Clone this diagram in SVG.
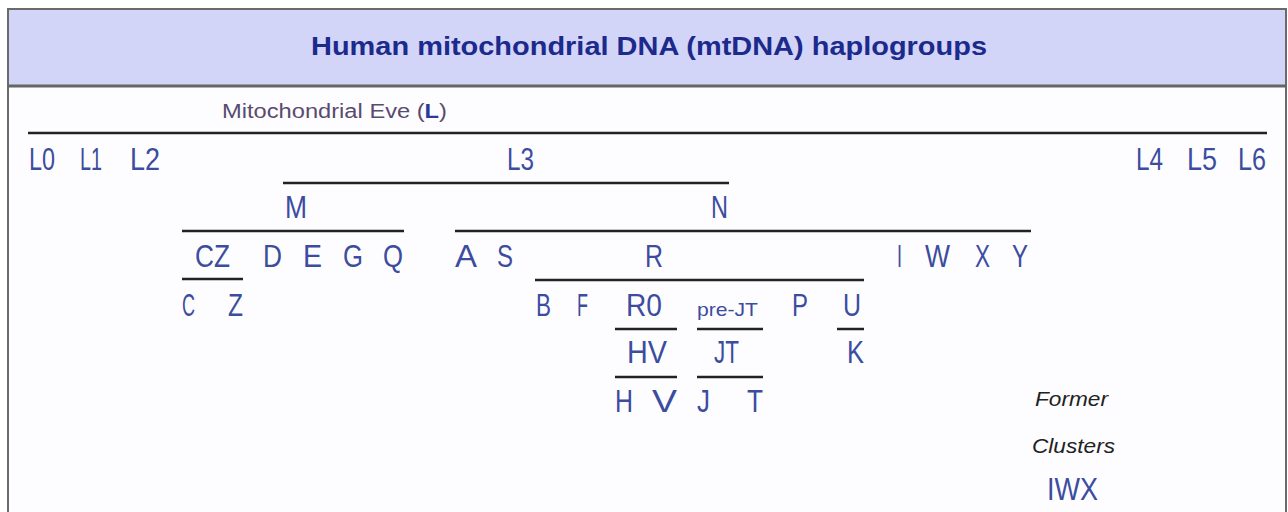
<svg xmlns="http://www.w3.org/2000/svg" width="1288" height="512" viewBox="0 0 1288 512">
  <style>
    .frame { fill: #fdfdff; stroke: #6a6a6a; stroke-width: 2; }
    .header { fill: #d2d4f8; }
    .rule { stroke: #666666; stroke-width: 3; }
    .title { font-family: "Liberation Sans", Arial, sans-serif; font-weight: bold; font-size: 26px; fill: #1c2a8c; }
    .eve { font-family: "Liberation Sans", Arial, sans-serif; font-size: 20px; fill: #5a4a6e; }
    .eve .root { fill: #2a3a9c; font-weight: bold; }
    .hg { font-family: "Liberation Sans", Arial, sans-serif; font-size: 31px; fill: #3c4c9e; }
    .hg.small { font-size: 19px; }
    .note { font-family: "Liberation Sans", Arial, sans-serif; font-style: italic; font-size: 21px; fill: #222222; }
    .link line { stroke: #222222; stroke-width: 2.5; }
  </style>

  <!-- outer panel and title bar -->
  <rect class="frame" x="8" y="9" width="1278" height="510"/>
  <rect class="header" x="9" y="10" width="1276" height="75"/>
  <line class="rule" x1="8" y1="86" x2="1286" y2="86"/>
  <text class="title" x="311" y="55" textLength="676" lengthAdjust="spacingAndGlyphs">Human mitochondrial DNA (mtDNA) haplogroups</text>

  <!-- root -->
  <g id="eve">
    <text class="eve" x="222" y="118" textLength="225" lengthAdjust="spacingAndGlyphs">Mitochondrial Eve (<tspan class="root">L</tspan>)</text>
  </g>

  <!-- branch bars -->
  <g id="connectors" class="link">
    <line x1="28" y1="133" x2="1267" y2="133"/>
    <line x1="283" y1="183" x2="729" y2="183"/>
    <line x1="182" y1="231" x2="404" y2="231"/>
    <line x1="455" y1="231" x2="1031" y2="231"/>
    <line x1="182" y1="279" x2="243" y2="279"/>
    <line x1="535" y1="280" x2="864" y2="280"/>
    <line x1="615" y1="329" x2="677" y2="329"/>
    <line x1="697" y1="329" x2="763" y2="329"/>
    <line x1="837" y1="329" x2="864" y2="329"/>
    <line x1="615" y1="377" x2="677" y2="377"/>
    <line x1="697" y1="377" x2="763" y2="377"/>
  </g>

  <!-- L haplogroups -->
  <g id="L0"><text class="hg" x="29" y="170" textLength="26" lengthAdjust="spacingAndGlyphs">L0</text></g>
  <g id="L1"><text class="hg" x="80" y="170" textLength="22" lengthAdjust="spacingAndGlyphs">L1</text></g>
  <g id="L2"><text class="hg" x="130" y="170" textLength="30" lengthAdjust="spacingAndGlyphs">L2</text></g>
  <g id="L3"><text class="hg" x="507" y="170" textLength="27" lengthAdjust="spacingAndGlyphs">L3</text></g>
  <g id="L4"><text class="hg" x="1136" y="170" textLength="27" lengthAdjust="spacingAndGlyphs">L4</text></g>
  <g id="L5"><text class="hg" x="1187" y="170" textLength="30" lengthAdjust="spacingAndGlyphs">L5</text></g>
  <g id="L6"><text class="hg" x="1238" y="170" textLength="28" lengthAdjust="spacingAndGlyphs">L6</text></g>

  <!-- macro-haplogroups -->
  <g id="M"><text class="hg" x="285" y="218" textLength="22" lengthAdjust="spacingAndGlyphs">M</text></g>
  <g id="N"><text class="hg" x="711" y="218" textLength="17" lengthAdjust="spacingAndGlyphs">N</text></g>

  <!-- M descendants -->
  <g id="CZ"><text class="hg" x="195" y="267" textLength="35" lengthAdjust="spacingAndGlyphs">CZ</text></g>
  <g id="D"><text class="hg" x="263" y="267" textLength="19" lengthAdjust="spacingAndGlyphs">D</text></g>
  <g id="E"><text class="hg" x="303" y="267" textLength="19" lengthAdjust="spacingAndGlyphs">E</text></g>
  <g id="G"><text class="hg" x="343" y="267" textLength="20" lengthAdjust="spacingAndGlyphs">G</text></g>
  <g id="Q"><text class="hg" x="383" y="267" textLength="20" lengthAdjust="spacingAndGlyphs">Q</text></g>
  <g id="C"><text class="hg" x="182" y="316" textLength="13" lengthAdjust="spacingAndGlyphs">C</text></g>
  <g id="Z"><text class="hg" x="228" y="316" textLength="15" lengthAdjust="spacingAndGlyphs">Z</text></g>

  <!-- N descendants -->
  <g id="A"><text class="hg" x="455" y="267" textLength="22" lengthAdjust="spacingAndGlyphs">A</text></g>
  <g id="S"><text class="hg" x="497" y="267" textLength="16" lengthAdjust="spacingAndGlyphs">S</text></g>
  <g id="R"><text class="hg" x="645" y="267" textLength="18" lengthAdjust="spacingAndGlyphs">R</text></g>
  <g id="I"><text class="hg" x="897" y="267" textLength="5" lengthAdjust="spacingAndGlyphs">I</text></g>
  <g id="W"><text class="hg" x="925" y="267" textLength="25" lengthAdjust="spacingAndGlyphs">W</text></g>
  <g id="X"><text class="hg" x="975" y="267" textLength="15" lengthAdjust="spacingAndGlyphs">X</text></g>
  <g id="Y"><text class="hg" x="1012" y="267" textLength="16" lengthAdjust="spacingAndGlyphs">Y</text></g>

  <!-- R descendants -->
  <g id="B"><text class="hg" x="536" y="316" textLength="15" lengthAdjust="spacingAndGlyphs">B</text></g>
  <g id="F"><text class="hg" x="577" y="316" textLength="11" lengthAdjust="spacingAndGlyphs">F</text></g>
  <g id="R0"><text class="hg" x="626" y="316" textLength="36" lengthAdjust="spacingAndGlyphs">R0</text></g>
  <g id="preJT"><text class="hg small" x="697" y="316" textLength="61" lengthAdjust="spacingAndGlyphs">pre-JT</text></g>
  <g id="P"><text class="hg" x="792" y="316" textLength="16" lengthAdjust="spacingAndGlyphs">P</text></g>
  <g id="U"><text class="hg" x="843" y="316" textLength="18" lengthAdjust="spacingAndGlyphs">U</text></g>
  <g id="HV"><text class="hg" x="627" y="363" textLength="40" lengthAdjust="spacingAndGlyphs">HV</text></g>
  <g id="JT"><text class="hg" x="714" y="363" textLength="25" lengthAdjust="spacingAndGlyphs">JT</text></g>
  <g id="K"><text class="hg" x="847" y="363" textLength="17" lengthAdjust="spacingAndGlyphs">K</text></g>
  <g id="H"><text class="hg" x="615" y="412" textLength="18" lengthAdjust="spacingAndGlyphs">H</text></g>
  <g id="V"><text class="hg" x="652" y="412" textLength="25" lengthAdjust="spacingAndGlyphs">V</text></g>
  <g id="J"><text class="hg" x="697" y="412" textLength="13" lengthAdjust="spacingAndGlyphs">J</text></g>
  <g id="T"><text class="hg" x="747" y="412" textLength="16" lengthAdjust="spacingAndGlyphs">T</text></g>

  <!-- legend -->
  <g id="former-clusters">
    <text class="note" x="1035" y="406" textLength="73" lengthAdjust="spacingAndGlyphs">Former</text>
    <text class="note" x="1032" y="453" textLength="83" lengthAdjust="spacingAndGlyphs">Clusters</text>
  </g>
  <g id="IWX"><text class="hg" x="1047" y="500" textLength="51" lengthAdjust="spacingAndGlyphs">IWX</text></g>
</svg>
